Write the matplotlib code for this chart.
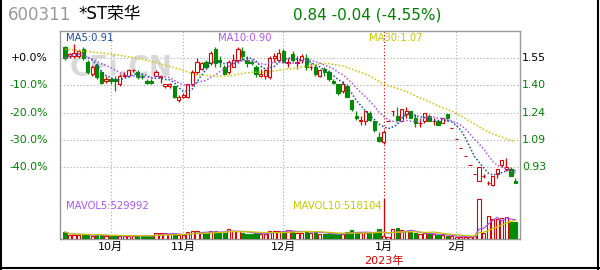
import numpy as np
import pandas as pd
import matplotlib
matplotlib.use("Agg")
import matplotlib.pyplot as plt
from matplotlib.lines import Line2D
from matplotlib.transforms import blended_transform_factory

# daily k-line of 600311 *ST荣华 (100 trading days)
opens = [1.61, 1.56, 1.56, 1.56, 1.60, 1.53, 1.46, 1.51, 1.47, 1.42,
         1.43, 1.43, 1.40, 1.45, 1.45, 1.48, 1.47, 1.45, 1.42, 1.42,
         1.45, 1.44, 1.39, 1.39, 1.39, 1.31, 1.33, 1.33, 1.40, 1.47,
         1.49, 1.53, 1.52, 1.60, 1.54, 1.50, 1.47, 1.50, 1.54, 1.59,
         1.54, 1.53, 1.50, 1.45, 1.45, 1.44, 1.55, 1.54, 1.59, 1.52,
         1.57, 1.52, 1.54, 1.55, 1.50, 1.50, 1.45, 1.49, 1.47, 1.42,
         1.40, 1.36, 1.39, 1.31, 1.22, 1.19, 1.19, 1.24, 1.19, 1.10,
         1.07, 1.19, 1.25, 1.22, 1.19, 1.23, 1.25, 1.21, 1.18, 1.19,
         1.22, 1.19, 1.19, 1.18, 1.23, 1.15, 1.09, 1.04, 0.99, 0.94,
         0.89, 0.85, 0.88, 0.84, 0.83, 0.89, 0.94, 0.92, 0.92, 0.85]
highs = [1.62, 1.58, 1.63, 1.60, 1.61, 1.54, 1.51, 1.52, 1.48, 1.45,
         1.44, 1.45, 1.46, 1.47, 1.49, 1.49, 1.48, 1.46, 1.43, 1.43,
         1.48, 1.45, 1.40, 1.41, 1.39, 1.34, 1.35, 1.40, 1.48, 1.55,
         1.53, 1.54, 1.59, 1.61, 1.56, 1.51, 1.54, 1.57, 1.61, 1.61,
         1.56, 1.54, 1.51, 1.49, 1.49, 1.56, 1.58, 1.60, 1.60, 1.55,
         1.59, 1.56, 1.57, 1.57, 1.52, 1.51, 1.49, 1.50, 1.48, 1.43,
         1.40, 1.42, 1.40, 1.31, 1.25, 1.22, 1.25, 1.25, 1.19, 1.13,
         1.14, 1.19, 1.25, 1.27, 1.26, 1.27, 1.25, 1.23, 1.21, 1.24,
         1.23, 1.21, 1.19, 1.21, 1.23, 1.15, 1.09, 1.04, 0.99, 0.94,
         0.89, 0.93, 0.89, 0.85, 0.88, 0.92, 0.97, 0.98, 0.93, 0.87]
lows = [1.54, 1.55, 1.55, 1.55, 1.54, 1.46, 1.45, 1.43, 1.40, 1.41,
        1.40, 1.36, 1.39, 1.44, 1.44, 1.47, 1.43, 1.43, 1.40, 1.40,
        1.45, 1.41, 1.38, 1.38, 1.32, 1.30, 1.32, 1.32, 1.39, 1.46,
        1.48, 1.49, 1.51, 1.50, 1.50, 1.46, 1.46, 1.50, 1.52, 1.54,
        1.50, 1.51, 1.44, 1.44, 1.43, 1.43, 1.53, 1.53, 1.52, 1.50,
        1.53, 1.49, 1.52, 1.48, 1.48, 1.45, 1.44, 1.45, 1.42, 1.40,
        1.34, 1.35, 1.33, 1.25, 1.20, 1.17, 1.17, 1.19, 1.13, 1.07,
        1.06, 1.19, 1.22, 1.19, 1.19, 1.21, 1.21, 1.16, 1.16, 1.18,
        1.19, 1.17, 1.17, 1.18, 1.19, 1.15, 1.09, 1.04, 0.99, 0.94,
        0.89, 0.85, 0.87, 0.83, 0.82, 0.87, 0.93, 0.91, 0.88, 0.84]
closes = [1.55, 1.57, 1.58, 1.59, 1.55, 1.47, 1.50, 1.44, 1.41, 1.43,
          1.42, 1.42, 1.45, 1.45, 1.48, 1.48, 1.44, 1.44, 1.41, 1.41,
          1.47, 1.45, 1.40, 1.40, 1.33, 1.33, 1.34, 1.40, 1.47, 1.53,
          1.52, 1.50, 1.58, 1.52, 1.53, 1.46, 1.53, 1.54, 1.60, 1.56,
          1.52, 1.52, 1.46, 1.46, 1.48, 1.55, 1.56, 1.58, 1.53, 1.53,
          1.54, 1.53, 1.56, 1.50, 1.50, 1.46, 1.48, 1.47, 1.43, 1.41,
          1.35, 1.40, 1.33, 1.26, 1.21, 1.20, 1.25, 1.20, 1.14, 1.08,
          1.13, 1.19, 1.25, 1.20, 1.26, 1.25, 1.21, 1.18, 1.18, 1.24,
          1.19, 1.19, 1.17, 1.21, 1.21, 1.15, 1.09, 1.04, 0.99, 0.94,
          0.89, 0.93, 0.88, 0.84, 0.88, 0.92, 0.97, 0.93, 0.88, 0.84]
volumes = [193000, 106000, 106000, 106000, 125000, 125000, 80000, 106000, 106000, 87000,
           87000, 87000, 87000, 87000, 87000, 87000, 87000, 87000, 87000, 87000,
           159000, 178000, 159000, 125000, 125000, 106000, 106000, 193000, 212000, 212000,
           159000, 159000, 212000, 231000, 193000, 178000, 265000, 212000, 212000, 178000,
           140000, 140000, 159000, 140000, 140000, 212000, 212000, 212000, 212000, 246000,
           212000, 178000, 178000, 231000, 178000, 193000, 140000, 140000, 125000, 140000,
           140000, 140000, 193000, 246000, 178000, 159000, 159000, 178000, 193000, 284000,
           80000, 66000, 265000, 292000, 239000, 212000, 186000, 159000, 133000, 159000,
           133000, 133000, 106000, 106000, 80000, 80000, 66000, 53000, 53000, 53000,
           91080, 1100000, 160000, 640000, 540000, 549000, 575000, 610000, 458000, 457960]

# first trading day of each month (index), 2023 starts at 1月
month_pos = [10, 26, 48, 70, 86]
month_labels = ["10月", "11月", "12月", "1月", "2月"]
year_pos = 70
year_label = "2023年"

base_price = 1.55
pct_levels = [0, -10, -20, -30, -40]
pct_labels = ["+0.0%", "-10.0%", "-20.0%", "-30.0%", "-40.0%"]
price_labels = ["1.55", "1.40", "1.24", "1.09", "0.93"]

# MA30 before 30 days of history are visible
ma30_head_pos = [0, 5, 10, 15, 20, 25]
ma30_head = [1.600, 1.587, 1.573, 1.553, 1.524, 1.487]

RED = "#dd0000"
GREEN = "#008c00"
TXT_GREEN = "#008000"
C_MA5 = "#1a4d99"
C_MA10 = "#aa55ee"
C_MA30 = "#c8c800"
GRID = "#aaaaaa"
CJK = ["DejaVu Sans", "Noto Sans CJK SC"]

df = pd.DataFrame({"open": opens, "high": highs, "low": lows,
                   "close": closes, "vol": volumes})
x = np.arange(len(df))
up = (df.close >= df.open).values
edge = np.where(up, RED, GREEN)
face = np.where(up, "white", GREEN)

ma5 = df.close.rolling(5, min_periods=1).mean()
ma10 = df.close.rolling(10, min_periods=1).mean()
ma30 = df.close.rolling(30).mean()
mavol5 = df.vol.rolling(5, min_periods=1).mean()
mavol10 = df.vol.rolling(10, min_periods=1).mean()

fig = plt.figure(figsize=(6, 2.7), dpi=100)
ax = fig.add_axes([60 / 600, 31 / 270, 460 / 600, 208 / 270])
ax.set_xlim(-1.1, 100)
ax.set_ylim(0.5205, 1.7036)
ax.set_xticks([])
ax.set_yticks([])
for s in ax.spines.values():
    s.set_color("#999999")
    s.set_linewidth(1.0)

tick_prices = [base_price * (1 + p / 100) for p in pct_levels]
for p in tick_prices:
    ax.axhline(p, color=GRID, ls=(0, (1, 2)), lw=0.8, zorder=0)
for m in month_pos:
    if m == year_pos:
        ax.axvline(m, color=RED, ls=(0, (1, 2)), lw=0.8, zorder=0)
        ax.axvline(m, ymin=0, ymax=0.19, color=RED, lw=0.9, zorder=0)
    else:
        ax.axvline(m, color=GRID, ls=(0, (1, 2)), lw=0.8, zorder=0)

ax.text(0.022, 0.82, "CFi.CN", transform=ax.transAxes, fontsize=20,
        fontweight="bold", color="#d9d9d9", va="center", zorder=1)

# candles
ax.vlines(x, df.low, df.high, colors=edge, lw=0.9, zorder=2)
body_bot = np.minimum(df.open, df.close)
body_h = np.maximum((df.close - df.open).abs(), 0.0005)
ax.bar(x, body_h, bottom=body_bot, width=0.72, color=face,
       edgecolor=edge, linewidth=0.8, zorder=3)

dots = (0, (1, 1.3))
ax.plot(x, ma5, color=C_MA5, ls=dots, lw=1.1, zorder=4)
ax.plot(x, ma10, color=C_MA10, ls=dots, lw=1.1, zorder=4)
ma30_x = np.r_[ma30_head_pos, x[29:]]
ma30_y = np.r_[ma30_head, ma30.values[29:]]
ax.plot(ma30_x, ma30_y, color=C_MA30, ls=dots, lw=1.1, zorder=4)

# volume
axv = ax.twinx()
axv.set_ylim(0, 5.72e6)
axv.axis("off")
axv.bar(x, df.vol, width=0.72, color=face, edgecolor=edge, linewidth=0.8)
axv.plot(x, mavol5, color=C_MA10, lw=0.9)
axv.plot(x, mavol10, color=C_MA30, lw=0.9)

# legends
lbl = dict(transform=ax.transAxes, fontsize=7.2, va="center", zorder=6)
ax.text(0.013, 0.966, f"MA5:{ma5.iloc[-1]:.2f}", color=C_MA5, **lbl)
ax.text(0.343, 0.966, f"MA10:{ma10.iloc[-1]:.2f}", color=C_MA10, **lbl)
ax.text(0.672, 0.966, f"MA30:{ma30.iloc[-1]:.2f}", color=C_MA30, **lbl)
ax.text(0.013, 0.159, f"MAVOL5:{mavol5.iloc[-1]:.0f}", color=C_MA10, **lbl)
ax.text(0.5065, 0.159, f"MAVOL10:{mavol10.iloc[-1]:.0f}", color=C_MA30, **lbl)

# axis labels
ty = blended_transform_factory(ax.transAxes, ax.transData)
for i, p in enumerate(tick_prices):
    c = "black" if i == 0 else TXT_GREEN
    ax.text(-0.026, p, pct_labels[i], transform=ty, ha="right", va="center",
            fontsize=7.8, color=c)
    ax.text(1.0045, p, price_labels[i], transform=ty, ha="left", va="center",
            fontsize=7.8, color=c)

tx = blended_transform_factory(ax.transData, ax.transAxes)
for m, t in zip(month_pos, month_labels):
    ax.text(m, -0.038, t, transform=tx, ha="center", va="center",
            fontsize=8, family=CJK)
ax.text(year_pos, -0.106, year_label, transform=tx, ha="center", va="center",
        fontsize=8, color=RED, family=CJK)

# header
last = closes[-1]
chg = closes[-1] - closes[-2]
pct = chg / closes[-2] * 100
hy = 1 - 14.5 / 270
fig.text(8 / 600, hy, "600311", color="#999999", fontsize=12, va="center")
fig.text(78 / 600, hy, "*ST荣华", color="black", fontsize=12, va="center",
         family=CJK)
fig.text(293 / 600, hy, f"{last:.2f} {chg:.2f} ({pct:.2f}%)", color=TXT_GREEN,
         fontsize=11, va="center")

# outer frame
for xs, ys in [([1 / 600, 1 / 600], [0, 1]), ([598 / 600, 598 / 600], [0, 1]),
               ([0, 1], [2 / 270, 2 / 270])]:
    fig.add_artist(Line2D(xs, ys, color="black", lw=1.5, transform=fig.transFigure))

fig.savefig("out.png", dpi=100)
